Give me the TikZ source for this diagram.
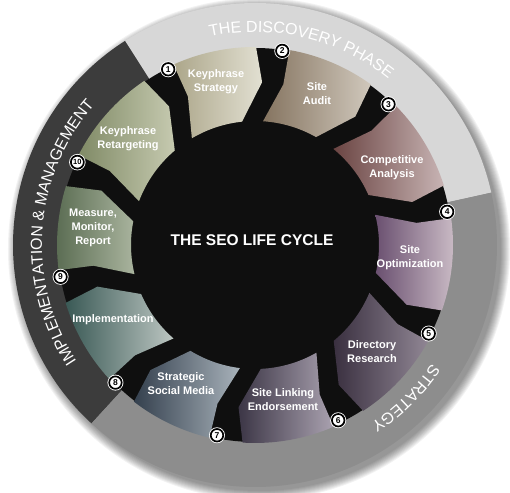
\documentclass[tikz,border=0pt]{standalone}
\usepackage{fontspec}
\setmainfont{Liberation Sans}
\usetikzlibrary{decorations.text}
\definecolor{ringlight}{HTML}{D7D7D7}
\definecolor{ringdark}{HTML}{3C3C3C}
\definecolor{ringmid}{HTML}{8D8D8D}
\definecolor{seoblack}{HTML}{0F0F0F}
\definecolor{kaL}{HTML}{ACA68A}\definecolor{kaR}{HTML}{E2E0D2}
\definecolor{saL}{HTML}{857460}\definecolor{saR}{HTML}{D0C8BC}
\definecolor{caL}{HTML}{6A4442}\definecolor{caR}{HTML}{C8B4B4}
\definecolor{soL}{HTML}{6A5070}\definecolor{soR}{HTML}{CBBCC6}
\definecolor{drL}{HTML}{3A3040}\definecolor{drR}{HTML}{908694}
\definecolor{slL}{HTML}{3C3646}\definecolor{slR}{HTML}{AAA2B0}
\definecolor{ssL}{HTML}{34404E}\definecolor{ssR}{HTML}{A8B2BA}
\definecolor{imL}{HTML}{3A5A56}\definecolor{imR}{HTML}{BCC6C2}
\definecolor{mmL}{HTML}{5A6C52}\definecolor{mmR}{HTML}{AAB49E}
\definecolor{krL}{HTML}{808A66}\definecolor{krR}{HTML}{C6CAB0}
% #1 ccw spoke angle, #2 cw spoke angle, #3 left colour, #4 right colour
\newcommand{\seosegment}[4]{%
  \pgfmathsetmacro\aA{#1-2}%
  \pgfmathsetmacro\aC{#1+4.3}%
  \pgfmathsetmacro\aD{#2+14}%
  \pgfmathsetmacro\aE{#2+5.5}%
  \pgfmathsetmacro\aF{#2+7.7}%
  \path[left color=#3, right color=#4] (\aA:198pt) -- (\aA:163pt) -- (\aC:124pt)
    arc[start angle=\aC, end angle=\aD, radius=124pt] -- (\aE:163pt) -- (\aF:198pt)
    arc[start angle=\aF, end angle=\aA, radius=198pt] -- cycle;}
\begin{document}
\begin{tikzpicture}[x=1pt,y=1pt,
  numcirc/.style={circle, fill=white, draw=black, line width=1.7pt, inner sep=0pt,
    minimum size=12.5pt, font=\bfseries\fontsize{8.5}{9}\selectfont,
    preaction={draw=white, line width=3.4pt}},
  seglabel/.style={text=white, align=center, font=\bfseries\fontsize{11}{14}\selectfont},
  ringtext/.style={decorate, decoration={text along path, text align=center,
    text={|\fontsize{16}{16}\selectfont\color{white}|#1}}}]
\useasboundingbox (-255,-247) rectangle (255,245);
% soft shadow
\foreach \r in {251,250,...,242}{\fill[black, opacity=0.05] (4,-4) circle[radius=\r pt];}
% outer ring sectors
\fill[ringlight] (0,0) -- (12.5:242pt) arc[start angle=12.5, end angle=122.5, radius=242pt] -- cycle;
\fill[ringdark] (0,0) -- (122.5:242pt) arc[start angle=122.5, end angle=227.5, radius=242pt] -- cycle;
\fill[ringmid] (0,0) -- (227.5:242pt) arc[start angle=227.5, end angle=372.5, radius=242pt] -- cycle;
% black disc with spokes
\fill[seoblack] (0,0) circle[radius=197pt];
% segments
\seosegment{116.3}{82}{kaL}{kaR}
\seosegment{82}{46.5}{saL}{saR}
\seosegment{46.5}{9.8}{caL}{caR}
\seosegment{9.8}{-27}{soL}{soR}
\seosegment{-27}{-64.6}{drL}{drR}
\seosegment{-64.6}{-101.3}{slL}{slR}
\seosegment{-101.3}{-135.4}{ssL}{ssR}
\seosegment{-135.4}{-170.7}{imL}{imR}
\seosegment{-170.7}{-205}{mmL}{mmR}
\seosegment{-205}{-243.7}{krL}{krR}
% ring texts
\path[ringtext={THE DISCOVERY PHASE}] (116.7:213pt) arc[start angle=116.7, end angle=36.7, radius=213pt];
\path[ringtext={IMPLEMENTATION {\&} MANAGEMENT}] (231:213pt) arc[start angle=231, end angle=121, radius=213pt];
\path[ringtext={STRATEGY}] (-15.5:213pt) arc[start angle=-15.5, end angle=-75.5, radius=213pt];
% title
\node[text=white, font=\bfseries\fontsize{15.5}{18}\selectfont] (title) at (-3,5) {THE SEO LIFE CYCLE};
% segment labels
\node[seglabel] (l1) at (-39,163) {Keyphrase\\Strategy};
\node[seglabel] (l2) at (62,151) {Site\\Audit};
\node[seglabel] (l3) at (137,77) {Competitive\\Analysis};
\node[seglabel] (l4) at (155,-13) {Site\\Optimization};
\node[seglabel] (l5) at (117,-107) {Directory\\Research};
\node[seglabel] (l6) at (28,-155) {Site Linking\\Endorsement};
\node[seglabel] (l7) at (-74,-139) {Strategic\\Social Media};
\node[seglabel] (l8) at (-142,-75) {Implementation};
\node[seglabel] (l9) at (-162,17) {Measure,\\Monitor,\\Report};
\node[seglabel] (l10) at (-127,106) {Keyphrase\\Retargeting};
% number circles
\node[numcirc] (n1) at (116.3:196pt) {1};
\node[numcirc] (n2) at (82:196pt) {2};
\node[numcirc] (n3) at (46.5:194pt) {3};
\node[numcirc] (n4) at (9.8:195pt) {4};
\node[numcirc] (n5) at (-27:195pt) {5};
\node[numcirc] (n6) at (-64.6:194pt) {6};
\node[numcirc] (n7) at (-101.3:194pt) {7};
\node[numcirc] (n8) at (-135.4:196pt) {8};
\node[numcirc] (n9) at (-170.7:197pt) {9};
\node[numcirc, minimum size=13pt, font=\bfseries\fontsize{7.5}{8}\selectfont] (n10) at (155:196pt) {10};
\end{tikzpicture}
\end{document}
